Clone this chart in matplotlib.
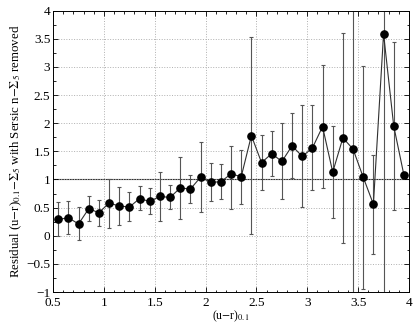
import matplotlib
matplotlib.use("Agg")
import matplotlib.pyplot as plt
from matplotlib.ticker import MultipleLocator
import numpy as np

x = [0.55, 0.65, 0.75, 0.85, 0.95, 1.05, 1.15, 1.25, 1.35, 1.45, 1.55, 1.65,
     1.75, 1.85, 1.95, 2.05, 2.15, 2.25, 2.35, 2.45, 2.55, 2.65, 2.75, 2.85,
     2.95, 3.05, 3.15, 3.25, 3.35, 3.45, 3.55, 3.65, 3.75, 3.85, 3.95]
y = [0.29, 0.32, 0.21, 0.48, 0.41, 0.58, 0.53, 0.51, 0.66, 0.61, 0.70, 0.68,
     0.85, 0.83, 1.04, 0.95, 0.96, 1.10, 1.05, 1.78, 1.30, 1.46, 1.32, 1.60,
     1.41, 1.56, 1.94, 1.13, 1.74, 1.54, 1.04, 0.56, 3.59, 1.95, 1.08]
y_hi = [0.60, 0.62, 0.51, 0.70, 0.64, 1.01, 0.87, 0.77, 0.88, 0.84, 1.13, 0.90,
        1.40, 1.08, 1.66, 1.29, 1.27, 1.59, 1.53, 3.53, 1.79, 1.86, 2.00, 2.18,
        2.32, 2.32, 3.04, 1.95, 3.61, 8.00, 3.02, 1.44, 8.00, 3.44, 1.08]
y_lo = [0.00, 0.03, -0.08, 0.26, 0.17, 0.14, 0.20, 0.26, 0.45, 0.38, 0.27, 0.47,
        0.30, 0.59, 0.42, 0.61, 0.65, 0.47, 0.57, 0.04, 0.81, 1.07, 0.65, 1.02,
        0.51, 0.81, 0.84, 0.32, -0.13, -5.00, -0.94, -0.32, -5.00, 0.46, 1.08]

xticks = [0.5, 1, 1.5, 2, 2.5, 3, 3.5, 4]
yticks = [-1, -0.5, 0, 0.5, 1, 1.5, 2, 2.5, 3, 3.5, 4]

plt.rcParams['font.family'] = ['Liberation Serif', 'DejaVu Serif']
plt.rcParams['mathtext.fontset'] = 'stix'

fig = plt.figure(figsize=(4.15, 3.25), dpi=100)
ax = fig.add_axes([0.128, 0.1015, 0.8575, 0.8655])

ya = np.array(y)
yerr = [ya - np.array(y_lo), np.array(y_hi) - ya]
ax.errorbar(x, y, yerr=yerr, fmt='none', ecolor='#555555', elinewidth=0.8,
            capsize=1.6, capthick=0.8, zorder=2)
ax.plot(x, y, '-', color='#303030', lw=0.8, zorder=3)
ax.plot(x, y, 'o', color='black', markersize=5.2, zorder=4)
ax.axhline(1, color='#303030', lw=0.8, zorder=1)

ax.set_xlim(0.5, 4)
ax.set_ylim(-1, 4)
ax.set_xticks(xticks)
ax.set_yticks(yticks)
ax.xaxis.set_minor_locator(MultipleLocator(0.1))
ax.yaxis.set_minor_locator(MultipleLocator(0.25))
ax.set_xticklabels([f'{t:g}' for t in xticks])
ax.set_yticklabels([f'{t:g}'.replace('-', '\u2212') for t in yticks])
ax.tick_params(which='both', direction='in', top=True, right=True, width=0.6,
               labelsize=9.5)
ax.tick_params(which='major', length=3.5)
ax.tick_params(which='minor', length=1.8)
ax.tick_params(axis='x', pad=3.5)
ax.tick_params(axis='y', pad=2)
ax.grid(True, which='major', linestyle=':', color='#b0b0b0', lw=0.7)
for s in ax.spines.values():
    s.set_linewidth(0.7)

ax.set_xlabel(r'(u$-$r)$_{0.1}$', fontsize=8.5, labelpad=0)
ax.set_ylabel(r'Residual (u$-$r)$_{0.1}$$-\Sigma_5$ with Sersic n$-\Sigma_5$ removed',
              fontsize=9.3, labelpad=2)

fig.savefig('out.png', dpi=100)
